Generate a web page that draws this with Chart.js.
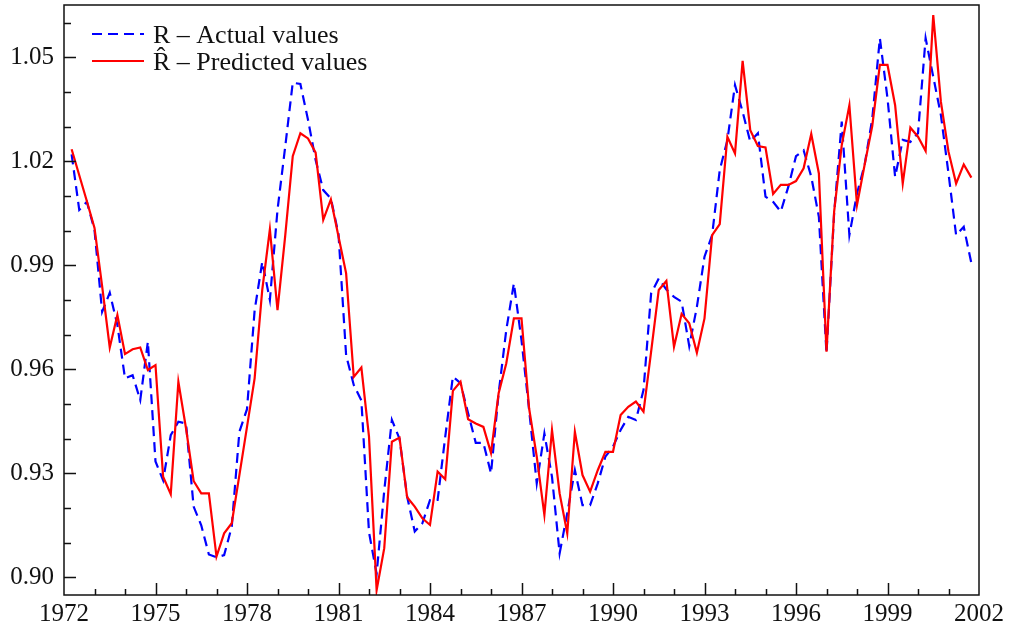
<!DOCTYPE html>
<html>
<head>
<meta charset="utf-8">
<script src="https://cdn.jsdelivr.net/npm/chart.js@4/dist/chart.umd.min.js"></script>
<style>
  html, body { margin: 0; padding: 0; background: #fff; }
  #wrap { width: 1016px; height: 630px; position: relative; }
</style>
</head>
<body>
<div id="wrap"><canvas id="c"></canvas></div>
<script>
// ---- data (quarterly, 1972Q2 .. 2001Q4) ----
const firstPeriod = 1972.25;
const periodStep = 0.25;

const actualValues = [
  1.022, 1.006, 1.0083, 1.0002, 0.9766, 0.9821, 0.9728, 0.9574, 0.9583, 0.9511,
  0.968, 0.9334, 0.928, 0.941, 0.9449, 0.9444, 0.9204, 0.915, 0.9066, 0.9058,
  0.9064, 0.9146, 0.942, 0.9485, 0.977, 0.991, 0.980, 1.006, 1.024, 1.0427,
  1.0423, 1.032, 1.0204, 1.0117, 1.0093, 0.999, 0.964, 0.9555, 0.951, 0.913,
  0.901, 0.925, 0.9454, 0.940, 0.9233, 0.9132, 0.9156, 0.9223, 0.9223, 0.9406,
  0.9579, 0.956, 0.9473, 0.9388, 0.9388, 0.930, 0.9531, 0.9713, 0.9848, 0.9684,
  0.9483, 0.9271, 0.9415, 0.929, 0.9069, 0.9185, 0.9309, 0.9208, 0.9208, 0.9271,
  0.9348, 0.9377, 0.9425, 0.9463, 0.9454, 0.954, 0.9819, 0.9862, 0.9830, 0.9809,
  0.9795, 0.9667, 0.978, 0.9925, 0.9987, 1.0175, 1.0261, 1.042, 1.0343, 1.0257,
  1.0281, 1.0098, 1.0083, 1.0055, 1.0127, 1.0215, 1.0232, 1.0156, 1.004, 0.9646,
  1.005, 1.0315, 0.9987, 1.0107, 1.019, 1.0323, 1.0555, 1.0382, 1.0155, 1.0262,
  1.0256, 1.0281, 1.0555, 1.0444, 1.0334, 1.0165, 0.9987, 1.0011, 0.9906
];

const predictedValues = [
  1.0235, 1.016, 1.0085, 1.0008, 0.984, 0.9663, 0.9757, 0.9644, 0.9658, 0.9663,
  0.9598, 0.9612, 0.929, 0.924, 0.9564, 0.943, 0.9278, 0.9242, 0.9242, 0.906,
  0.9127, 0.9156, 0.9295, 0.9434, 0.9574, 0.9829, 1.0004, 0.9771, 0.9983, 1.0215,
  1.0281, 1.0266, 1.0225, 1.0031, 1.009, 0.9983, 0.9877, 0.9578, 0.9605, 0.9406,
  0.8963, 0.9084, 0.9391, 0.9403, 0.9231, 0.9204, 0.917, 0.9151, 0.9305, 0.9283,
  0.9538, 0.9564, 0.9456, 0.9444, 0.9434, 0.9359, 0.9531, 0.9617, 0.9747, 0.9747,
  0.9487, 0.9348, 0.918, 0.9425, 0.9242, 0.9127, 0.942, 0.9295, 0.9247, 0.9309,
  0.9362, 0.9362, 0.9468, 0.9492, 0.9507, 0.9478, 0.9651, 0.9829, 0.9855, 0.9665,
  0.976, 0.9733, 0.9648, 0.9747, 0.9987, 1.0019, 1.0271, 1.0223, 1.049, 1.029,
  1.0244, 1.024, 1.0106, 1.0132, 1.0132, 1.0143, 1.018, 1.0279, 1.0165, 0.9651,
  1.0055, 1.0247, 1.0362, 1.0074, 1.019, 1.0302, 1.0478, 1.0478, 1.0362, 1.0136,
  1.0297, 1.0271, 1.023, 1.0622, 1.0372, 1.0228, 1.0136, 1.0191, 1.0153
];

const xTickYears = [1972, 1975, 1978, 1981, 1984, 1987, 1990, 1993, 1996, 1999, 2002];
const yTickValues = [0.90, 0.93, 0.96, 0.99, 1.02, 1.05];

const seriesLabels = ['R \u2013 Actual values', 'R\u0302 \u2013 Predicted values'];

// period index -> x position (time axis)
const periods = actualValues.map((_, i) => firstPeriod + i * periodStep);
const toPoints = vals => vals.map((v, i) => ({ x: periods[i], y: v }));

const FONT = '"Liberation Serif", "DejaVu Serif", serif';

const ticksPlugin = {
  id: 'boxAndTicks',
  afterDraw(chart) {
    const { ctx, chartArea: a, scales: { x, y } } = chart;
    ctx.save();
    ctx.strokeStyle = '#111';
    ctx.lineWidth = 1.5;
    ctx.beginPath();
    for (let yr = xTickYears[0]; yr <= xTickYears[xTickYears.length - 1]; yr++) {
      const px = Math.round(x.getPixelForValue(yr)) + 0.5;
      if (px <= a.left + 1 || px >= a.right - 1) continue;
      const len = xTickYears.includes(yr) ? 12 : 6;
      ctx.moveTo(px, a.bottom);
      ctx.lineTo(px, a.bottom - len);
    }
    for (let i = 0; i <= 16; i++) {
      const v = 0.90 + i * 0.01;
      const py = Math.round(y.getPixelForValue(v)) + 0.5;
      if (py <= a.top + 1 || py >= a.bottom - 1) continue;
      const major = yTickValues.some(t => Math.abs(t - v) < 1e-6);
      const len = major ? 12 : 7;
      ctx.moveTo(a.left, py);
      ctx.lineTo(a.left + len, py);
    }
    ctx.stroke();
    ctx.strokeRect(a.left, a.top, a.right - a.left, a.bottom - a.top);
    ctx.restore();
  }
};

const legendPlugin = {
  id: 'innerLegend',
  afterDatasetsDraw(chart) {
    const { ctx } = chart;
    const items = [chart.data.datasets[1], chart.data.datasets[0]]; // actual first
    const x0 = 92, x1 = 144, tx = 153;
    const rows = [34, 61];
    ctx.save();
    ctx.font = '26px ' + FONT;
    ctx.textBaseline = 'alphabetic';
    ctx.fillStyle = '#111';
    items.forEach((ds, i) => {
      const yy = rows[i];
      ctx.beginPath();
      ctx.strokeStyle = ds.borderColor;
      ctx.lineWidth = ds.borderWidth;
      ctx.setLineDash(ds.borderDash || []);
      ctx.moveTo(x0, yy);
      ctx.lineTo(x1, yy);
      ctx.stroke();
      ctx.setLineDash([]);
      ctx.fillText(ds.label, tx, yy + 9);
    });
    ctx.restore();
  }
};

new Chart(document.getElementById('c'), {
  type: 'line',
  data: {
    datasets: [
      {
        label: seriesLabels[1],
        data: toPoints(predictedValues),
        borderColor: '#ff0000',
        borderWidth: 2.2,
        pointRadius: 0,
        tension: 0,
        order: 1
      },
      {
        label: seriesLabels[0],
        data: toPoints(actualValues),
        borderColor: '#0000ff',
        borderWidth: 2.2,
        borderDash: [10, 6],
        pointRadius: 0,
        tension: 0,
        order: 2
      }
    ]
  },
  options: {
    responsive: true,
    maintainAspectRatio: false,
    animation: false,
    layout: { padding: { top: 5, right: 37, bottom: 0, left: 0 } },
    plugins: { legend: { display: false }, tooltip: { enabled: false } },
    scales: {
      x: {
        type: 'linear',
        min: 1972,
        max: 2002,
        afterBuildTicks: s => { s.ticks = xTickYears.map(v => ({ value: v })); },
        afterFit: s => { s.height = 35; s.paddingLeft = 0; s.paddingRight = 0; },
        grid: { display: false, drawTicks: false },
        border: { display: false },
        ticks: {
          autoSkip: false,
          maxRotation: 0,
          padding: 4,
          color: '#111',
          font: { family: FONT, size: 25 },
          callback: v => String(v)
        }
      },
      y: {
        type: 'linear',
        min: 0.8949,
        max: 1.0651,
        afterBuildTicks: s => { s.ticks = yTickValues.map(v => ({ value: v })); },
        afterFit: s => { s.width = 64; s.paddingTop = 0; s.paddingBottom = 0; },
        grid: { display: false, drawTicks: false },
        border: { display: false },
        ticks: {
          autoSkip: false,
          padding: 10,
          color: '#111',
          font: { family: FONT, size: 25 },
          callback: v => v.toFixed(2)
        }
      }
    }
  },
  plugins: [ticksPlugin, legendPlugin]
});
</script>
</body>
</html>
